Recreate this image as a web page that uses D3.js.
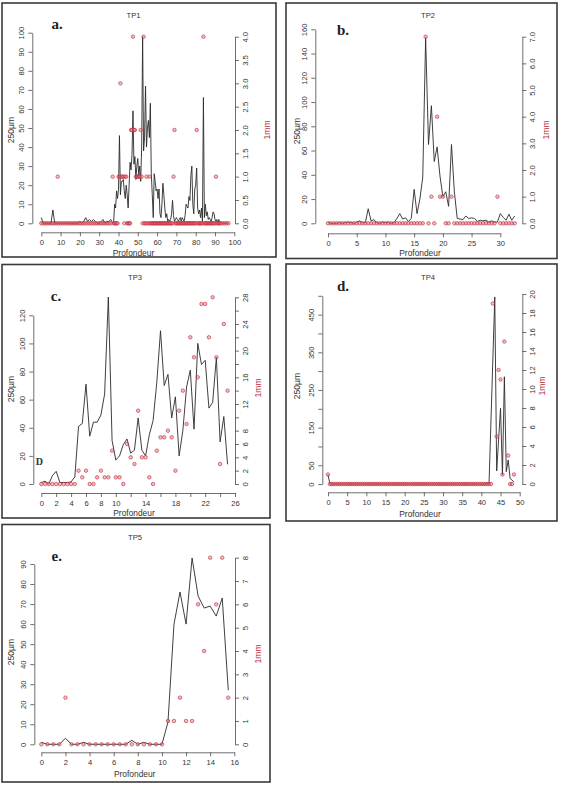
<!DOCTYPE html>
<html><head><meta charset="utf-8">
<script src="https://cdn.jsdelivr.net/npm/d3@7"></script>
<style>body{margin:0;background:#fff}</style>
</head><body>
<svg id="chart" width="561" height="788"></svg>
<script>
// ---------- TP1 ----------
const tp1Depth = [0,1,2,3,4,5,6,7,8,8.5,9,10,11,12,13,14,15,16,17,18,19,
 20,21,22,23,24,25,26,27,28,29,30,31,32,33,34,35,36,37,
 37.5,38,38.5,39,39.5,40,40.5,41,41.5,42,42.5,43,43.5,44,44.5,45,45.5,46,46.5,47,
 47.5,48,48.5,49,49.5,50,50.5,51,51.5,52,52.5,53,53.5,54,54.5,55,55.5,56,56.5,57,
 57.5,58,58.5,59,59.5,60,60.5,61,61.5,62,62.5,63,63.5,64,64.5,65,65.5,66,66.5,67,
 67.5,68,68.5,69,69.5,70,70.5,71,71.5,72,72.5,73,73.5,74,74.5,75,75.5,76,76.5,77,
 77.5,78,78.5,79,79.5,80,80.5,81,81.5,82,82.5,83,83.5,84,84.5,85,85.5,86,86.5,87,
 87.5,88,88.5,89,89.5,90,90.5,91,91.5,92,92.5,93,94,95,96,97];
const tp1Fine = [3,0,0,0,0,0,7,0,0,0,0,0,0,0,0,0,0,0,0,0,0,
 1,0,1,3,1,2,1,2,1,0,0,1,2,0,1,1,2,0,
 1,10,8,17,13,18,46,15,22,22, 23,17,13,20,15,8,20,32,28,36,
 59,31,35,23,30,34,25,30,22,40, 98,38,45,72,40,50,54,45,63,26,
 15,3,26,22,17,18,13,18,5,3, 10,21,15,8,3,5,1,2,1,2,
 5,12,4,1,2,3,2,1,2,3, 1,3,2,1,4,10,9,8,14,12,
 25,30,10,5,18,20,29,8,5,7, 3,8,1,66,3,10,4,6,2,3,
 2,1,3,6,5,2,1,2,0,2, 0,0, 0,0,0,0];
const tp1Coarse = [0,0,0,0,0,0,0,0,0,1,0,0,0,0,0,0,0,0,0,0,0,
 0,0,0,0,0,0,0,0,0,0,0,0,0,0,0,0,0,1,
 0,0,0,0,0,1,1,3,1,1, 1,0,1,1,0,0,0,0,2,2,
 4,2,2,1,1,1,1,1,2,1, 0,4,0,0,1,0,0,1,0,0,
 0,0,0,0,0,0,0,0,0,0, 0,0,0,0,0,0,0,0,0,0,
 0,0,1,2,0,0,0,0,0,0, 0,0,0,0,0,0,0,0,0,0,
 0,0,0,0,0,0,2,0,0,0, 0,0,0,4,0,0,0,0,0,0,
 0,0,0,0,0,0,1,0,0,0, 0,0, 0,0,0,0];
const tp1XTicks = [0,10,20,30,40,50,60,70,80,90,100];
const tp1LeftTicks = [0,10,20,30,40,50,60,70,80,90,100];
const tp1RightTicks = [0,0.5,1,1.5,2,2.5,3,3.5,4];

// ---------- TP2 ----------
const tp2Depth = [0,0.5,1,1.5,2,2.5,3,3.5,4,4.5,5,5.5,6,6.5,7,7.5,8,8.5,9,9.5,
 10,10.5,11,11.5,12,12.5,13,13.5,14,14.5,15,15.5,16,16.5,17,17.5,18,18.5,19,19.5,
 20,20.5,21,21.5,22,22.5,23,23.5,24,24.5,25,25.5,26,26.5,27,27.5,28,28.5,29,29.5,
 30,30.5,31,31.5,32,32.5];
const tp2Fine = [1,0,0,0,0.5,0,0.5,1,0.5,0, 1,2,0.5,0.5,12,2,3,0.5,0,1,
 0.5,1,0,0.5,4,8,3.5,4.5,1.5,4, 28,8,20,38,153,65,97,51,63,39,
 22,26,14,65,26,4,3.5,3,6,4, 4.5,4,1.5,2.5,2,2.5,1,2,1,1,
 8,5,2.5,7.5,2.5,6];
const tp2Coarse = [0,0,0,0,0,0,0,0,0,0, 0,0,0,0,0,0,0,0,0,0,
 0,0,0,0,0,0,0,0,0,0, 0,0,0,0,7,0,1,0,4,1,
 1,0,0,1,0,0,0,0,0,0, 0,0,0,0,0,0,0,0,0,1,
 0,0,0,0,0,0];
const tp2XTicks = [0,5,10,15,20,25,30];
const tp2LeftTicks = [0,20,40,60,80,100,120,140,160];
const tp2RightTicks = [0,1,2,3,4,5,6,7];

// ---------- TP3 ----------
const tp3Depth = [0,0.5,1,1.5,2,2.5,3,3.5,4,4.5,5,5.5,6,6.5,7,7.5,8,8.5,9,9.5,
 10,10.5,11,11.5,12,12.5,13,13.5,14,14.5,15,15.5,16,16.5,17,17.5,18,18.5,19,19.5,
 20,20.5,21,21.5,22,22.5,23,23.5,24,24.5,25];
const tp3Fine = [1,2,0,6,9,1,1,1,1.5,5, 41,43,71,34,44,44,49,64,133,31,
 17,20,28,32,22,24,47,24,20,35, 45,72,109,70,78,47,62,20,38,69,
 81,39,100,85,88,54,58,90,30,48, 14];
const tp3Coarse = [0,0,0,0,0,0,0,0,0,0, 2,1,2,0,0,1,2,1,1,5,
 1,1,0,6,4,3,11,4,4,1, 0,5,7,7,8,7,2,11,14,9,
 22,19,16,27,27,22,28,19,3,24, 14];
const tp3XTicks = [0,2,4,6,8,10,12,14,16,18,20,22,24,26];
const tp3XLabels = [0,2,4,6,8,10,14,18,22,26];
const tp3LeftTicks = [0,20,40,60,80,100,120];
const tp3RightTicks = [0,2,4,6,8,10,12,14,16,18,20,22,24,26,28];
const tp3RightLabels = [0,2,4,6,8,12,16,20,24,28];

// ---------- TP4 ----------
const tp4Depth = [0,0.5,1,1.5,2,2.5,3,3.5,4,4.5,5,5.5,6,6.5,7,7.5,8,8.5,9,9.5,
 10,10.5,11,11.5,12,12.5,13,13.5,14,14.5,15,15.5,16,16.5,17,17.5,18,18.5,19,19.5,
 20,20.5,21,21.5,22,22.5,23,23.5,24,24.5,25,25.5,26,26.5,27,27.5,28,28.5,29,29.5,
 30,30.5,31,31.5,32,32.5,33,33.5,34,34.5,35,35.5,36,36.5,37,37.5,38,38.5,39,39.5,
 40,40.5,41,41.5,42,42.5,43,43.5,44,44.5,45,45.5,46,46.5,47,47.5,48,48.5];
const tp4Fine = [25,
 0,0,0,0,0,0,0,0,0,0, 0,0,0,0,0,0,0,0,0,0,
 0,0,0,0,0,0,0,0,0,0, 0,0,0,0,0,0,0,0,0,0,
 0,0,0,0,0,0,0,0,0,0, 0,0,0,0,0,0,0,0,0,0,
 0,0,0,0,0,0,0,0,0,0, 0,0,0,0,0,0,0,0,0,0,
 0,0,
 3,0,null, null,497,35,null,201,25,285,33,64,15,null,6];
const tp4Coarse = [1,
 0,0,0,0,0,0,0,0,0,0, 0,0,0,0,0,0,0,0,0,0,
 0,0,0,0,0,0,0,0,0,0, 0,0,0,0,0,0,0,0,0,0,
 0,0,0,0,0,0,0,0,0,0, 0,0,0,0,0,0,0,0,0,0,
 0,0,0,0,0,0,0,0,0,0, 0,0,0,0,0,0,0,0,0,0,
 0,0,0,0,0,
 19,null,5,12,11,1,15,null,3,0,0,1];
const tp4XTicks = [0,5,10,15,20,25,30,35,40,45,50];
const tp4LeftTicks = [0,50,100,150,200,250,300,350,400,450,500];
const tp4LeftLabels = [0,50,150,250,350,450];
const tp4RightTicks = [0,2,4,6,8,10,12,14,16,18,20];

// ---------- TP5 ----------
const tp5Depth = [0,0.5,1,1.5,2,2.5,3,3.5,4,4.5,5,5.5,6,6.5,7,7.5,8,8.5,9,9.5,
 10,10.5,11,11.5,12,12.5,13,13.5,14,14.5,15,15.5];
const tp5Fine = [1,0,0,0,3,0,0,1,0,0, 0,0,0,0,0,2,0,1,0,0,
 0,11,60,76,60,93,74,68,69,64, 73,27];
const tp5Coarse = [0,0,0,0,2,0,0,0,0,0, 0,0,0,0,0,0,0,0,0,0,
 0,1,1,2,1,1,6,4,8,6, 8,2];
const tp5XTicks = [0,2,4,6,8,10,12,14,16];
const tp5LeftTicks = [0,10,20,30,40,50,60,70,80,90];
const tp5RightTicks = [0,1,2,3,4,5,6,7,8];

// ---------- layout ----------
const f1 = d3.format(".1f"), f0 = d => String(d);
const panels = [
 {title:"TP1", letter:"a.", depth:tp1Depth, fine:tp1Fine, coarse:tp1Coarse,
  xTicks:tp1XTicks, xLabels:tp1XTicks, lTicks:tp1LeftTicks, lLabels:tp1LeftTicks, rTicks:tp1RightTicks, rLabels:tp1RightTicks, rFmt:f1,
  frame:[2,3,276,257], xRange:[41.3,234.3], xAxisY:232.3, lRange:[223.3,32.7], lAxisX:32.3, rRange:[223.3,36.7], rAxisX:235,
  titlePos:[133.5,15.7], letterPos:[57,29], ylab:[10.5,130], y2lab:[266.7,130], xlab:[133.5,253]},
 {title:"TP2", letter:"b.", depth:tp2Depth, fine:tp2Fine, coarse:tp2Coarse,
  xTicks:tp2XTicks, xLabels:tp2XTicks, lTicks:tp2LeftTicks, lLabels:tp2LeftTicks, rTicks:tp2RightTicks, rLabels:tp2RightTicks, rFmt:f1,
  frame:[286,3,557,258.5], xRange:[328,500.3], xAxisY:233.3, lRange:[223.3,29.3], lAxisX:315.3, rRange:[223.3,36.7], rAxisX:522.3,
  titlePos:[428,15.7], letterPos:[343,35], ylab:[296.5,131], y2lab:[546.3,130], xlab:[420,253.5]},
 {title:"TP3", letter:"c.", depth:tp3Depth, fine:tp3Fine, coarse:tp3Coarse,
  xTicks:tp3XTicks, xLabels:tp3XLabels, lTicks:tp3LeftTicks, lLabels:tp3LeftTicks, rTicks:tp3RightTicks, rLabels:tp3RightLabels, rFmt:f0,
  frame:[2,264.5,270,518], xRange:[41.3,235], xAxisY:493, lRange:[484,315.3], lAxisX:33.3, rRange:[484,297.3], rAxisX:235,
  titlePos:[135,277.3], letterPos:[56,300.5], ylab:[10.5,389], y2lab:[258.3,388], xlab:[134,513], extra:{text:"D", x:39.3, y:464.5}},
 {title:"TP4", letter:"d.", depth:tp4Depth, fine:tp4Fine, coarse:tp4Coarse,
  xTicks:tp4XTicks, xLabels:tp4XTicks, lTicks:tp4LeftTicks, lLabels:tp4LeftLabels, rTicks:tp4RightTicks, rLabels:tp4RightTicks, rFmt:f0,
  frame:[286,264,557,521], xRange:[328,519.7], xAxisY:492.3, lRange:[484.1,295.8], lAxisX:322.3, rRange:[484,294], rAxisX:522.3,
  titlePos:[428,277.3], letterPos:[343,291.4], ylab:[297,386], y2lab:[542,386], xlab:[420,514]},
 {title:"TP5", letter:"e.", depth:tp5Depth, fine:tp5Fine, coarse:tp5Coarse,
  xTicks:tp5XTicks, xLabels:tp5XTicks, lTicks:tp5LeftTicks, lLabels:tp5LeftTicks, rTicks:tp5RightTicks, rLabels:tp5RightTicks, rFmt:f0,
  frame:[2,524.5,270,782], xRange:[41.3,234.3], xAxisY:752.3, lRange:[744.3,564], lAxisX:34.3, rRange:[744.3,557.7], rAxisX:235,
  titlePos:[135,537.7], letterPos:[56.7,561.2], ylab:[11,652], y2lab:[258.3,654], xlab:[134.7,774.3]}
];

const SANS = "'Liberation Sans', Arial, Helvetica, sans-serif";
const SERIF = "'Liberation Serif', 'Times New Roman', serif";
const AXC = "#4a4a4a", TXC = "#333";
const svg = d3.select("#chart");
svg.append("rect").attr("width",561).attr("height",788).attr("fill","#fff");

function styleAxis(g){
  g.attr("font-family", SANS).attr("font-size", 7.6);
  g.select(".domain").attr("stroke", AXC).attr("stroke-width", 0.8);
  g.selectAll(".tick line").attr("stroke", AXC).attr("stroke-width", 0.8);
  g.selectAll(".tick text").attr("fill", TXC);
}

panels.forEach(p => {
  if (p.depth.length !== p.fine.length || p.depth.length !== p.coarse.length)
    throw new Error(p.title + " length mismatch " + p.depth.length + "/" + p.fine.length + "/" + p.coarse.length);
  const g = svg.append("g");
  const [fx0, fy0, fx1, fy1] = p.frame;
  g.append("rect").attr("x", fx0).attr("y", fy0).attr("width", fx1 - fx0).attr("height", fy1 - fy0)
    .attr("fill", "none").attr("stroke", "#3a3a3a").attr("stroke-width", 1.6);

  const x = d3.scaleLinear().domain([p.xTicks[0], p.xTicks[p.xTicks.length-1]]).range(p.xRange);
  const yL = d3.scaleLinear().domain([p.lTicks[0], p.lTicks[p.lTicks.length-1]]).range(p.lRange);
  const yR = d3.scaleLinear().domain([p.rTicks[0], p.rTicks[p.rTicks.length-1]]).range(p.rRange);
  const rows = p.depth.map((d, i) => ({depth: d, fine: p.fine[i], coarse: p.coarse[i]}));

  const line = d3.line().x(d => x(d.depth)).y(d => yL(d.fine));
  g.append("path").datum(rows.filter(d => d.fine != null)).attr("d", line)
    .attr("fill", "none").attr("stroke", "#2a2a2a").attr("stroke-width", 0.9).attr("stroke-linejoin", "round");

  g.append("g").selectAll("circle").data(rows.filter(d => d.coarse != null)).join("circle")
    .attr("cx", d => x(d.depth)).attr("cy", d => yR(d.coarse)).attr("r", 1.75)
    .attr("fill", "rgba(222,110,120,0.45)").attr("stroke", "#c42f3e").attr("stroke-width", 0.75).attr("stroke-opacity", 0.85);

  // axes
  const ax = g.append("g").attr("transform", `translate(0,${p.xAxisY})`)
    .call(d3.axisBottom(x).tickValues(p.xTicks).tickSize(4).tickSizeOuter(0)
      .tickFormat(d => p.xLabels.includes(d) ? String(d) : ""));
  styleAxis(ax);
  ax.selectAll(".tick text").attr("y", 10).attr("dy", "0.35em");

  const al = g.append("g").attr("transform", `translate(${p.lAxisX},0)`)
    .call(d3.axisLeft(yL).tickValues(p.lTicks).tickSize(4).tickSizeOuter(0)
      .tickFormat(d => p.lLabels.includes(d) ? String(d) : ""));
  styleAxis(al);
  al.selectAll(".tick text").attr("x", 0).attr("dy", "0.35em").attr("text-anchor", "middle")
    .attr("transform", "translate(-10.6,0) rotate(-90)");

  const ar = g.append("g").attr("transform", `translate(${p.rAxisX},0)`)
    .call(d3.axisRight(yR).tickValues(p.rTicks).tickSize(4).tickSizeOuter(0)
      .tickFormat(d => p.rLabels.includes(d) ? p.rFmt(d) : ""));
  styleAxis(ar);
  ar.selectAll(".tick text").attr("x", 0).attr("dy", "0.35em").attr("text-anchor", "middle")
    .attr("transform", "translate(10,0) rotate(-90)");

  // texts
  g.append("text").attr("x", p.titlePos[0]).attr("y", p.titlePos[1]).attr("dy", "0.35em")
    .attr("text-anchor", "middle").attr("font-family", SANS).attr("font-size", 7.6).attr("fill", TXC).text(p.title);
  g.append("text").attr("x", p.xlab[0]).attr("y", p.xlab[1]).attr("dy", "0.35em")
    .attr("text-anchor", "middle").attr("font-family", SANS).attr("font-size", 8.4).attr("fill", TXC).text("Profondeur");
  g.append("text").attr("transform", `translate(${p.ylab[0]},${p.ylab[1]}) rotate(-90)`).attr("dy", "0.35em")
    .attr("text-anchor", "middle").attr("font-family", SANS).attr("font-size", 8.6).attr("fill", TXC).text("250µm");
  g.append("text").attr("transform", `translate(${p.y2lab[0]},${p.y2lab[1]}) rotate(-90)`).attr("dy", "0.35em")
    .attr("text-anchor", "middle").attr("font-family", SANS).attr("font-size", 8.6).attr("fill", "#b8303c").text("1mm");
  g.append("text").attr("x", p.letterPos[0]).attr("y", p.letterPos[1])
    .attr("text-anchor", "middle").attr("font-family", SERIF).attr("font-weight", "bold").attr("font-size", 15).attr("fill", "#222").text(p.letter);
  if (p.extra) {
    g.append("text").attr("x", p.extra.x).attr("y", p.extra.y).attr("text-anchor", "middle")
      .attr("font-family", SERIF).attr("font-weight", "bold").attr("font-size", 10).attr("fill", "#333").text(p.extra.text);
  }
});
</script>
</body></html>
